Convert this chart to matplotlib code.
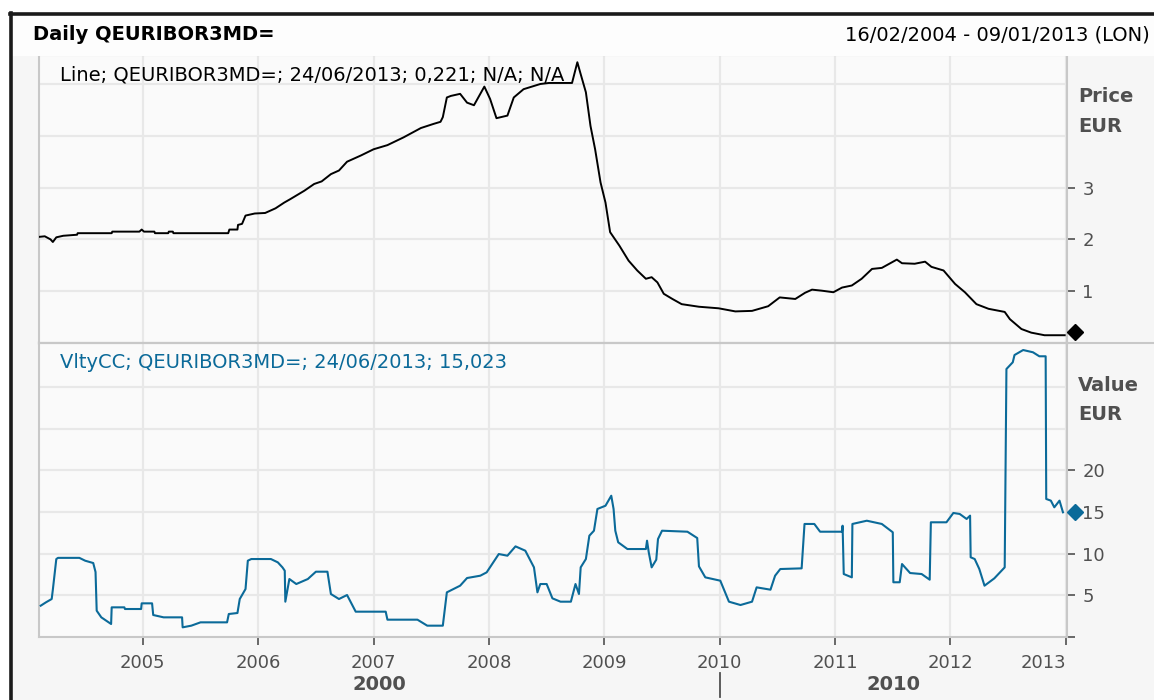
import matplotlib
matplotlib.use("Agg")
import matplotlib.pyplot as plt
from matplotlib.lines import Line2D
from matplotlib.patches import Rectangle
import matplotlib.transforms as mtransforms

# ---------------- data ----------------
price_t = [2004.106, 2004.15, 2004.20, 2004.22, 2004.25, 2004.31, 2004.43, 2004.435, 2004.73, 2004.735,
           2004.97, 2004.99, 2005.01, 2005.10, 2005.105, 2005.22, 2005.225, 2005.26, 2005.265, 2005.74,
           2005.75, 2005.82, 2005.825, 2005.86, 2005.89, 2005.97, 2006.06, 2006.15, 2006.225, 2006.28,
           2006.40, 2006.485, 2006.55, 2006.63, 2006.70, 2006.77, 2006.89, 2007.00, 2007.12, 2007.26,
           2007.41, 2007.52, 2007.58, 2007.60, 2007.635, 2007.67, 2007.75, 2007.81, 2007.87, 2007.96,
           2008.01, 2008.065, 2008.16, 2008.215, 2008.30, 2008.445, 2008.52, 2008.72, 2008.766, 2008.795,
           2008.84, 2008.88, 2008.92, 2008.967, 2009.01, 2009.05, 2009.13, 2009.21, 2009.285, 2009.36,
           2009.41, 2009.46, 2009.515, 2009.59, 2009.67, 2009.82, 2009.99, 2010.135, 2010.28, 2010.42,
           2010.52, 2010.655, 2010.74, 2010.80, 2010.885, 2010.985, 2011.06, 2011.145, 2011.23, 2011.32,
           2011.405, 2011.535, 2011.58, 2011.69, 2011.78, 2011.835, 2011.94, 2012.04, 2012.125, 2012.225,
           2012.33, 2012.47, 2012.515, 2012.615, 2012.70, 2012.815, 2012.99]
price_v = [2.05, 2.06, 2.00, 1.95, 2.04, 2.07, 2.09, 2.12, 2.12, 2.15,
           2.15, 2.19, 2.15, 2.15, 2.12, 2.12, 2.15, 2.15, 2.12, 2.12,
           2.19, 2.19, 2.28, 2.30, 2.46, 2.50, 2.51, 2.60, 2.71, 2.78,
           2.94, 3.07, 3.12, 3.26, 3.33, 3.50, 3.62, 3.74, 3.82, 3.97,
           4.15, 4.23, 4.27, 4.36, 4.74, 4.77, 4.81, 4.64, 4.59, 4.95,
           4.71, 4.34, 4.39, 4.74, 4.90, 5.00, 5.02, 5.02, 5.42, 5.19,
           4.84, 4.19, 3.74, 3.10, 2.71, 2.14, 1.88, 1.59, 1.40, 1.24,
           1.27, 1.17, 0.95, 0.85, 0.75, 0.70, 0.67, 0.61, 0.62, 0.71,
           0.88, 0.85, 0.97, 1.03, 1.01, 0.98, 1.07, 1.11, 1.24, 1.43,
           1.45, 1.61, 1.54, 1.53, 1.57, 1.47, 1.40, 1.14, 0.98, 0.75,
           0.66, 0.60, 0.46, 0.27, 0.20, 0.15, 0.15]

vol_t = [2004.115, 2004.16, 2004.21, 2004.22, 2004.25, 2004.265, 2004.45, 2004.50, 2004.57, 2004.59,
         2004.60, 2004.64, 2004.725, 2004.73, 2004.84, 2004.845, 2004.985, 2004.99, 2005.08, 2005.09,
         2005.18, 2005.34, 2005.345, 2005.42, 2005.50, 2005.73, 2005.745, 2005.82, 2005.84, 2005.89,
         2005.91, 2005.94, 2006.11, 2006.17, 2006.21, 2006.23, 2006.235, 2006.27, 2006.33, 2006.43,
         2006.50, 2006.60, 2006.63, 2006.70, 2006.77, 2006.845, 2007.105, 2007.12, 2007.38, 2007.465,
         2007.60, 2007.635, 2007.75, 2007.81, 2007.925, 2007.98, 2008.085, 2008.16, 2008.23, 2008.315,
         2008.39, 2008.42, 2008.445, 2008.50, 2008.55, 2008.62, 2008.71, 2008.75, 2008.78, 2008.795,
         2008.84, 2008.87, 2008.91, 2008.94, 2009.01, 2009.06, 2009.08, 2009.095, 2009.12, 2009.20,
         2009.36, 2009.37, 2009.385, 2009.41, 2009.45, 2009.465, 2009.50, 2009.72, 2009.805, 2009.82,
         2009.875, 2010.005, 2010.08, 2010.18, 2010.28, 2010.32, 2010.44, 2010.48, 2010.525, 2010.71,
         2010.735, 2010.82, 2010.87, 2011.06, 2011.065, 2011.075, 2011.145, 2011.15, 2011.275, 2011.405,
         2011.50, 2011.505, 2011.56, 2011.58, 2011.65, 2011.75, 2011.82, 2011.83, 2011.965, 2012.025,
         2012.08, 2012.14, 2012.17, 2012.175, 2012.21, 2012.25, 2012.295, 2012.38, 2012.47, 2012.485,
         2012.54, 2012.555, 2012.63, 2012.715, 2012.77, 2012.825, 2012.83, 2012.87, 2012.90, 2012.945,
         2012.975]
vol_v = [3.76, 4.16, 4.56, 5.68, 9.36, 9.5, 9.5, 9.16, 8.88, 7.8,
         3.16, 2.36, 1.56, 3.56, 3.56, 3.36, 3.36, 4.04, 4.04, 2.64,
         2.36, 2.36, 1.16, 1.36, 1.76, 1.76, 2.76, 2.88, 4.56, 5.76,
         9.16, 9.36, 9.36, 8.96, 8.36, 7.96, 4.24, 6.96, 6.36, 6.96,
         7.84, 7.84, 5.16, 4.56, 5.04, 3.04, 3.04, 2.08, 2.08, 1.36,
         1.36, 5.36, 6.16, 7.08, 7.36, 7.76, 9.96, 9.76, 10.88, 10.36,
         8.36, 5.36, 6.36, 6.36, 4.64, 4.24, 4.24, 6.36, 5.16, 8.36,
         9.36, 12.16, 12.76, 15.37, 15.76, 16.96, 15.37, 12.76, 11.37, 10.56,
         10.56, 11.56, 10.16, 8.36, 9.28, 11.76, 12.76, 12.64, 11.88, 8.48,
         7.16, 6.76, 4.24, 3.84, 4.24, 5.96, 5.68, 7.36, 8.16, 8.24,
         13.57, 13.57, 12.64, 12.64, 13.36, 7.56, 7.16, 13.57, 13.96, 13.57,
         12.57, 6.57, 6.57, 8.76, 7.68, 7.56, 6.88, 13.77, 13.77, 14.89,
         14.77, 14.17, 14.57, 9.57, 9.36, 8.16, 6.16, 7.04, 8.36, 32.17,
         32.98, 33.85, 34.45, 34.18, 33.70, 33.70, 16.57, 16.37, 15.57, 16.37,
         14.97]

last_price = 0.221
last_vol = 15.023

year_ticks = [2005, 2006, 2007, 2008, 2009, 2010, 2011, 2012, 2013]
year_labels = ["2005", "2006", "2007", "2008", "2009", "2010", "2011", "2012", "2013"]
decade_labels = ["2000", "2010"]
decade_split = 2010

price_ticks = [0, 1, 2, 3]
price_tick_labels = ["", "1", "2", "3"]
price_grid = [1, 2, 3, 4, 5]
vol_ticks = [0, 5, 10, 15, 20]
vol_tick_labels = ["", "5", "10", "15", "20"]
vol_grid = [5, 10, 15, 20, 25, 30]

title_left = "Daily QEURIBOR3MD="
title_right = "16/02/2004 - 09/01/2013 (LON)"
legend_price = "Line; QEURIBOR3MD=; 24/06/2013; 0,221; N/A; N/A"
legend_vol = "VltyCC; QEURIBOR3MD=; 24/06/2013; 15,023"

# ---------------- styling ----------------
W, H = 1154, 700
BLUE = "#0b6a99"
GRAY_TXT = "#505050"
GRID = "#e8e8e8"
SPINE = "#c8c8c8"
plt.rcParams["font.family"] = ["DejaVu Sans"]

fig = plt.figure(figsize=(W / 100, H / 100), dpi=100, facecolor="#f6f6f6")


def fx(px):
    return px / W


def fy(py):
    return 1 - py / H


# header white band and outer white margins
fig.patches.append(Rectangle((0, fy(56)), 1, 1 - fy(56), transform=fig.transFigure,
                             facecolor="#fdfdfd", edgecolor="none", zorder=0))
fig.patches.append(Rectangle((0, 0), fx(11), 1, transform=fig.transFigure,
                             facecolor="white", edgecolor="none", zorder=0))
fig.patches.append(Rectangle((0, fy(12)), 1, 1 - fy(12), transform=fig.transFigure,
                             facecolor="white", edgecolor="none", zorder=0))

L, R = 39, 1067
T1, B1 = 55, 343
T2, B2 = 343, 637
XMIN, XMAX = 2004.10, 2013.01

ax1 = fig.add_axes([fx(L), fy(B1), fx(R - L), (B1 - T1) / H])
ax2 = fig.add_axes([fx(L), fy(B2), fx(R - L), (B2 - T2) / H])

for ax in (ax1, ax2):
    ax.set_facecolor("#fafafa")
    ax.set_xlim(XMIN, XMAX)
    for s in ax.spines.values():
        s.set_color(SPINE)
        s.set_linewidth(1.5)
    ax.yaxis.tick_right()
    ax.tick_params(axis="y", direction="out", length=6, width=1.2, color=GRAY_TXT,
                   labelcolor=GRAY_TXT, labelsize=13, pad=5)
    for yr in year_ticks:
        ax.axvline(yr, color=GRID, lw=1.6, zorder=0)

ax1.set_ylim(0, (B1 - T1) / 51.8)
ax2.set_ylim(0, (B2 - T2) / 8.33)

for g in price_grid:
    ax1.axhline(g, color=GRID, lw=1.6, zorder=0)
for g in vol_grid:
    ax2.axhline(g, color=GRID, lw=1.6, zorder=0)

ax1.set_yticks(price_ticks)
ax1.set_yticklabels(price_tick_labels)
ax2.set_yticks(vol_ticks)
ax2.set_yticklabels(vol_tick_labels)

ax1.set_xticks([])
ax2.set_xticks(year_ticks)
ax2.set_xticklabels(year_labels)
ax2.tick_params(axis="x", direction="out", length=6, width=1.2, color=GRAY_TXT,
                labelcolor=GRAY_TXT, labelsize=13, pad=6)
# last year label sits left of its tick, as in the reference
ax2.get_xticklabels()[-1].set_horizontalalignment("right")

ax1.plot(price_t, price_v, color="black", lw=1.4, zorder=3)
ax2.plot(vol_t, vol_v, color=BLUE, lw=1.5, zorder=3)

# end-value diamonds just right of the axis
tr1 = mtransforms.blended_transform_factory(ax1.transAxes, ax1.transData)
tr2 = mtransforms.blended_transform_factory(ax2.transAxes, ax2.transData)
ax1.plot([1.008], [last_price], marker="D", ms=8, color="black", transform=tr1, clip_on=False, zorder=5)
ax2.plot([1.008], [last_vol], marker="D", ms=8, color=BLUE, transform=tr2, clip_on=False, zorder=5)

# legends inside panels
ax1.text((60 - L) / (R - L), 1 - (75 - T1) / (B1 - T1), legend_price, transform=ax1.transAxes,
         fontsize=14, color="black", va="center", ha="left", zorder=6)
ax2.text((60 - L) / (R - L), 1 - (363 - T2) / (B2 - T2), legend_vol, transform=ax2.transAxes,
         fontsize=14, color=BLUE, va="center", ha="left", zorder=6)

# axis titles at the right
fig.text(fx(1078), fy(96), "Price", fontsize=14, fontweight="bold", color=GRAY_TXT, va="center", ha="left")
fig.text(fx(1078), fy(126), "EUR", fontsize=14, fontweight="bold", color=GRAY_TXT, va="center", ha="left")
fig.text(fx(1078), fy(385), "Value", fontsize=14, fontweight="bold", color=GRAY_TXT, va="center", ha="left")
fig.text(fx(1078), fy(414), "EUR", fontsize=14, fontweight="bold", color=GRAY_TXT, va="center", ha="left")

# header
fig.text(fx(33), fy(35), title_left, fontsize=14, fontweight="bold", color="black", va="center", ha="left")
fig.text(fx(1150), fy(35), title_right, fontsize=14, color="black", va="center", ha="right")

# frame lines
fig.lines.append(Line2D([fx(10), 1], [fy(13.5), fy(13.5)], transform=fig.transFigure, color="#1a1a1a", lw=2.6))
fig.lines.append(Line2D([fx(11.5), fx(11.5)], [0, fy(12.5)], transform=fig.transFigure, color="#1a1a1a", lw=2.6))
# panel separator extending into the right margin
fig.lines.append(Line2D([fx(L), 1], [fy(343), fy(343)], transform=fig.transFigure, color=SPINE, lw=1.5))

# decade labels under the year axis
trx = mtransforms.blended_transform_factory(ax2.transData, fig.transFigure)
ax2.text((XMIN + decade_split) / 2, fy(685), decade_labels[0], transform=trx, fontsize=14,
         fontweight="bold", color=GRAY_TXT, ha="center", va="center", clip_on=False)
ax2.text((decade_split + XMAX) / 2, fy(685), decade_labels[1], transform=trx, fontsize=14,
         fontweight="bold", color=GRAY_TXT, ha="center", va="center", clip_on=False)
ax2.plot([decade_split, decade_split], [fy(673), fy(697)], transform=trx, color=GRAY_TXT, lw=1.3,
         clip_on=False)

fig.savefig("out.png", dpi=100, facecolor=fig.get_facecolor())
